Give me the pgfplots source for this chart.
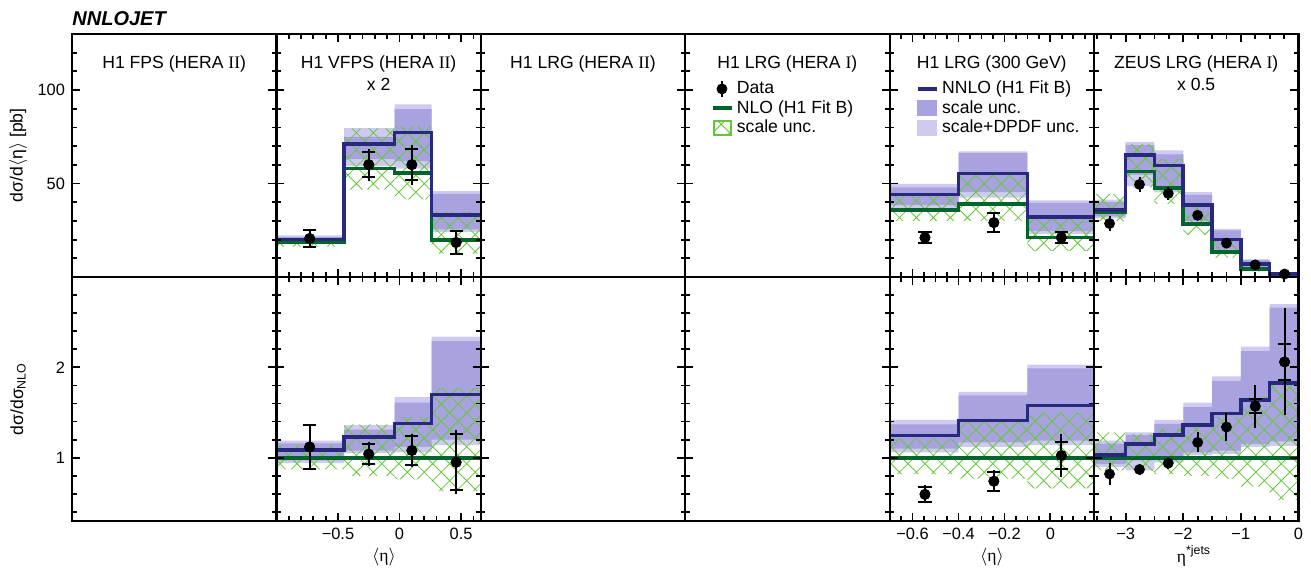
\documentclass[border=0pt]{standalone}
\usepackage{fontspec}
\setmainfont{Liberation Sans}
\newfontfamily\serif{Liberation Serif}
\usepackage{pgfplots}
\pgfplotsset{compat=1.18}
\usepackage{pgfplotstable}
\usetikzlibrary{patterns.meta}
\usepgfplotslibrary{fillbetween}

\definecolor{lightband}{RGB}{206,202,240}
\definecolor{darkband}{RGB}{168,163,222}
\definecolor{nnloblue}{RGB}{40,40,125}
\definecolor{nlogreen}{RGB}{0,100,45}
\definecolor{hatchgreen}{RGB}{100,198,55}

% ---------- theory bands (bin left edges, last row = right edge) ----------
\pgfplotstableread{
x nnlo nlo dlo dhi llo lhi hlo hhi
-1.00 20.0 18.5 19.0 21.3 18.3 22.3 16.3 21.0
-0.45 71.2 58.0 63.0 75.0 59.5 79.6 46.8 79.5
-0.04 77.2 55.7 62.0 89.8 58.0 92.4 41.5 80.5
0.26 33.3 19.8 25.5 44.5 24.0 46.0 12.5 35.0
0.66 33.3 19.8 25.5 44.5 24.0 46.0 12.5 35.0
}\vfpstop
\pgfplotstableread{
x nnlo nlo dlo dhi llo lhi hlo hhi
-1.00 1.088 1 0.97 1.16 0.94 1.19 0.87 1.13
-0.45 1.23 1 1.08 1.31 1.05 1.36 0.80 1.37
-0.04 1.38 1 1.12 1.61 1.06 1.67 0.76 1.45
0.26 1.70 1 1.20 2.29 1.14 2.34 0.63 1.77
0.66 1.70 1 1.20 2.29 1.14 2.34 0.63 1.77
}\vfpsrat
\pgfplotstableread{
x nnlo nlo dlo dhi llo lhi hlo hhi
-0.7 44.1 35.8 38.5 48.0 36.8 49.8 30.0 43.3
-0.4 55.3 39.2 45.4 66.3 42.4 67.2 30.0 54.5
-0.1 32.1 21.1 24.6 39.7 22.9 41.0 14.0 31.0
0.2 32.1 21.1 24.6 39.7 22.9 41.0 14.0 31.0
}\lrgtop
\pgfplotstableread{
x nnlo nlo dlo dhi llo lhi hlo hhi
-0.7 1.246 1 1.10 1.37 1.06 1.42 0.82 1.21
-0.4 1.41 1 1.17 1.69 1.12 1.73 0.77 1.40
-0.1 1.58 1 1.19 1.99 1.14 2.03 0.66 1.50
0.2 1.58 1 1.19 1.99 1.14 2.03 0.66 1.50
}\lrgrat
\pgfplotstableread{
x nnlo nlo dlo dhi llo lhi hlo hhi
-3.6 35.8 34.8 32.4 40.2 31.3 41.4 29.9 44.5
-3.0 65.3 56.5 54.8 70.6 48.6 72.3 48.0 71.2
-2.5 59.6 47.7 48.2 65.6 45.3 67.7 39.1 63.0
-2.0 38.4 28.2 29.9 44.0 28.9 45.4 22.6 39.2
-1.5 20.1 13.5 14.6 25.0 14.0 25.7 10.4 19.6
-1.0 6.9 4.2 4.8 9.2 4.7 9.4 2.9 7.0
-0.5 1.6 0.87 1.0 2.3 1.0 2.35 0.46 1.6
0.0 1.6 0.87 1.0 2.3 1.0 2.35 0.46 1.6
}\zeustop
\pgfplotstableread{
x nnlo nlo dlo dhi llo lhi hlo hhi
-3.6 1.03 1 0.93 1.155 0.90 1.19 0.86 1.28
-3.0 1.155 1 0.97 1.25 0.86 1.28 0.85 1.26
-2.5 1.25 1 1.01 1.375 0.95 1.42 0.82 1.32
-2.0 1.36 1 1.06 1.56 1.025 1.61 0.80 1.39
-1.5 1.49 1 1.08 1.85 1.04 1.90 0.77 1.45
-1.0 1.64 1 1.15 2.18 1.12 2.23 0.68 1.67
-0.5 1.83 1 1.18 2.66 1.13 2.70 0.53 1.85
0.0 1.83 1 1.18 2.66 1.13 2.70 0.53 1.85
}\zeusrat

% ---------- data ----------
\pgfplotstableread{
x y s tp tm
-0.73 20.6 4.4 4.4 4.4
-0.25 60.1 6.8 8.5 8.5
0.10 60.1 8.4 10.5 11.0
0.46 18.5 6.2 6.2 6.2
}\vfpsdtop
\pgfplotstableread{
x y s tp tm
-0.73 1.12 0.24 0.24 0.24
-0.25 1.04 0.11 0.135 0.135
0.10 1.08 0.16 0.18 0.18
0.46 0.95 0.31 0.36 0.35
}\vfpsdrat
\pgfplotstableread{
x y s tp tm
-0.546 21.1 2.9 3.5 3.5
-0.246 29.1 4.9 5.5 5.5
0.048 21.1 2.8 3.5 3.5
}\lrgdtop
\pgfplotstableread{
x y s tp tm
-0.546 0.595 0.08 0.10 0.10
-0.246 0.74 0.105 0.12 0.12
0.048 1.025 0.145 0.24 0.24
}\lrgdrat
\pgfplotstableread{
x y tp tm
-3.28 28.6 4 4
-2.76 49.5 4 4
-2.26 44.7 3.5 3.5
-1.75 33.0 2.5 2.5
-1.25 18.1 1.5 1.5
-0.75 6.5 0.8 0.8
-0.24 1.6 0.5 0.5
}\zeusdtop
\pgfplotstableread{
x y tp tm
-3.28 0.82 0.12 0.12
-2.76 0.87 0.065 0.065
-2.26 0.94 0.06 0.06
-1.75 1.17 0.11 0.11
-1.25 1.34 0.155 0.155
-0.75 1.57 0.23 0.24
-0.24 2.06 0.60 0.59
}\zeusdrat
\pgfplotstableread{
x y s
-0.75 1.57 0.075
-0.24 2.06 0.20
}\zeusdratstat

\tikzset{hatchfill/.style={pattern={Hatch[angle=45,distance=6pt,line width=0.4pt]}, pattern color=hatchgreen}}

\newcommand{\bands}[1]{%
 \addplot[const plot, draw=none, forget plot, name path=LL] table[x=x,y=llo]{#1};
 \addplot[const plot, draw=none, forget plot, name path=LH] table[x=x,y=lhi]{#1};
 \addplot[fill=lightband, draw=none, forget plot] fill between[of=LL and LH];
 \addplot[const plot, draw=none, forget plot, name path=DL] table[x=x,y=dlo]{#1};
 \addplot[const plot, draw=none, forget plot, name path=DH] table[x=x,y=dhi]{#1};
 \addplot[fill=darkband, draw=none, forget plot] fill between[of=DL and DH];
 \addplot[const plot, draw=none, forget plot, name path=HL] table[x=x,y=hlo]{#1};
 \addplot[const plot, draw=none, forget plot, name path=HH] table[x=x,y=hhi]{#1};
 \addplot[hatchfill, draw=none, forget plot] fill between[of=HL and HH];
 \addplot[const plot, nlogreen, line width=1.8pt, forget plot] table[x=x,y=nlo]{#1};
 \addplot[const plot, nnloblue, line width=1.8pt, forget plot] table[x=x,y=nnlo]{#1};
}
\newcommand{\totpts}[1]{%
 \addplot[only marks, black, mark=*, mark size=2.5pt, forget plot,
   error bars/.cd, y dir=both, y explicit, error mark=none,
   error bar style={line width=1pt, black}]
   table[x=x, y=y, y error plus=tp, y error minus=tm]{#1};
}
\newcommand{\statpts}[1]{%
 \addplot[only marks, black, mark=*, mark size=2.5pt, forget plot,
   error bars/.cd, y dir=both, y explicit,
   error bar style={line width=1pt, black},
   error mark options={rotate=90, black, mark size=3.3pt, line width=1pt}]
   table[x=x, y=y, y error=s]{#1};
}
\newcommand{\dummy}{\addplot[draw=none, mark=none, forget plot] coordinates {(0.5,1) (0.6,1)};}

\newcommand{\ttl}{\fontsize{8.8}{10}\selectfont}

\pgfplotsset{
 panel/.style={scale only axis, width=102.2pt, anchor=south west, axis on top,
   axis line style={line width=1.1pt, black},
   tick style={black, line width=0.9pt},
   major tick length=4pt, minor tick length=2.3pt, tick align=inside,
   xtick pos=both, ytick pos=both,
   tick label style={font=\fontsize{8.2}{9}\selectfont},
   clip=true},
 toprow/.style={height=121.5pt, ymin=0, ymax=130, ytick={50,100},
   minor ytick={10,20,30,40,60,70,80,90,110,120}, yticklabels={}},
 botrow/.style={height=122pt, ymin=0.3, ymax=3, ytick={1,2},
   minor ytick={0.4,0.6,0.8,1.2,1.4,1.6,1.8,2.2,2.4,2.6,2.8}, yticklabels={}},
 emptyx/.style={xmin=0, xmax=1, xtick=\empty},
 vfps/.style={xmin=-1.0, xmax=0.66, xtick={-0.5,0,0.5},
   minor xtick={-0.9,-0.8,-0.7,-0.6,-0.4,-0.3,-0.2,-0.1,0.1,0.2,0.3,0.4,0.6}},
 lrg/.style={xmin=-0.7, xmax=0.19, xtick={-0.6,-0.4,-0.2,0},
   minor xtick={-0.65,-0.55,-0.5,-0.45,-0.35,-0.3,-0.25,-0.15,-0.1,-0.05,0.05,0.1,0.15}},
 zeus/.style={xmin=-3.55, xmax=0, xtick={-3,-2,-1,0},
   minor xtick={-3.5,-3.25,-2.75,-2.5,-2.25,-1.75,-1.5,-1.25,-0.75,-0.5,-0.25}},
 leg/.style={legend style={at={(axis description cs:#1,0.814)}, anchor=north west,
   draw=none, fill=none, inner sep=0pt, row sep=0.45pt, column sep=1.2pt,
   nodes={inner sep=0.5pt, text height=6.5pt, text depth=1.8pt, font=\ttl}},
   legend cell align=left},
}

\begin{document}
\begin{tikzpicture}

% ================= TOP ROW =================
\begin{axis}[panel, toprow, emptyx, at={(36pt,148.5pt)}, yticklabels={50,100}]
\dummy
\node[font=\ttl] at (axis description cs:0.5,0.877) {H1 FPS (HERA {\serif II})};
\end{axis}

\begin{axis}[panel, toprow, vfps, xticklabels={}, at={(138.2pt,148.5pt)}]
\bands{\vfpstop}
\totpts{\vfpsdtop}
\statpts{\vfpsdtop}
\node[font=\ttl] at (axis description cs:0.5,0.877) {H1 VFPS (HERA {\serif II})};
\node[font=\ttl] at (axis description cs:0.5,0.794) {x 2};
\end{axis}

\begin{axis}[panel, toprow, emptyx, at={(240.4pt,148.5pt)}]
\dummy
\node[font=\ttl] at (axis description cs:0.5,0.877) {H1 LRG (HERA {\serif II})};
\end{axis}

\begin{axis}[panel, toprow, emptyx, at={(342.6pt,148.5pt)}, leg=0.122]
\dummy
\addlegendimage{legend image code/.code={
  \path (0,0) (9.5pt,0);
  \draw[black, line width=1pt] (4.7pt,-3.8pt)--(4.7pt,3.8pt);
  \fill[black] (4.7pt,0) circle (2.5pt);}}
\addlegendentry{Data}
\addlegendimage{legend image code/.code={
  \draw[nlogreen, line width=2pt] (0,0)--(9.5pt,0);}}
\addlegendentry{NLO (H1 Fit B)}
\addlegendimage{legend image code/.code={
  \draw[hatchgreen, line width=1pt, hatchfill] (0.5pt,-3.4pt) rectangle (9pt,3.6pt);}}
\addlegendentry{scale unc.}
\node[font=\ttl] at (axis description cs:0.5,0.877) {H1 LRG (HERA {\serif I})};
\end{axis}

\begin{axis}[panel, toprow, lrg, xticklabels={}, at={(444.8pt,148.5pt)}, leg=0.126]
\bands{\lrgtop}
\totpts{\lrgdtop}
\statpts{\lrgdtop}
\addlegendimage{legend image code/.code={
  \draw[nnloblue, line width=2pt] (0,0)--(9.5pt,0);}}
\addlegendentry{NNLO (H1 Fit B)}
\addlegendimage{legend image code/.code={
  \fill[darkband] (0,-3.5pt) rectangle (9.5pt,3.8pt);}}
\addlegendentry{scale unc.}
\addlegendimage{legend image code/.code={
  \fill[lightband] (0,-3.5pt) rectangle (9.5pt,3.8pt);}}
\addlegendentry{scale+DPDF unc.}
\node[font=\ttl] at (axis description cs:0.5,0.877) {H1 LRG (300 GeV)};
\end{axis}

\begin{axis}[panel, toprow, zeus, xticklabels={}, at={(547.0pt,148.5pt)}]
\bands{\zeustop}
\totpts{\zeusdtop}
\node[font=\ttl] at (axis description cs:0.5,0.877) {ZEUS LRG (HERA {\serif I})};
\node[font=\ttl] at (axis description cs:0.5,0.794) {x 0.5};
\end{axis}

% ================= BOTTOM ROW =================
\begin{axis}[panel, botrow, emptyx, at={(36pt,26.5pt)}, yticklabels={1,2}]
\dummy
\end{axis}

\begin{axis}[panel, botrow, vfps, xticklabels={−0.5,0,0.5}, at={(138.2pt,26.5pt)}]
\bands{\vfpsrat}
\totpts{\vfpsdrat}
\statpts{\vfpsdrat}
\end{axis}

\begin{axis}[panel, botrow, emptyx, at={(240.4pt,26.5pt)}]
\dummy
\end{axis}

\begin{axis}[panel, botrow, emptyx, at={(342.6pt,26.5pt)}]
\dummy
\end{axis}

\begin{axis}[panel, botrow, lrg, xticklabels={−0.6,−0.4,−0.2,0}, at={(444.8pt,26.5pt)}]
\bands{\lrgrat}
\totpts{\lrgdrat}
\statpts{\lrgdrat}
\end{axis}

\begin{axis}[panel, botrow, zeus, xticklabels={−3,−2,−1,0}, at={(547.0pt,26.5pt)}]
\bands{\zeusrat}
\totpts{\zeusdrat}
\statpts{\zeusdratstat}
\end{axis}

% ================= TEXT =================
\node[anchor=base west, inner sep=0pt, font=\fontsize{10}{12}\selectfont\bfseries\itshape] at (36pt,274pt) {NNLOJET};
\node[rotate=90, font=\ttl] at (9pt,209.3pt) {dσ/d$\langle$η$\rangle$ [pb]};
\node[rotate=90, font=\ttl] at (9pt,87.5pt) {dσ/dσ\textsubscript{NLO}};
\node[font=\ttl] at (192pt,8.5pt) {$\langle${\serif η}$\rangle$};
\node[font=\ttl] at (496pt,8.5pt) {$\langle${\serif η}$\rangle$};
\node[font=\ttl] at (597pt,9pt) {{\serif η}\textsuperscript{*jets}};
\pgfresetboundingbox
\useasboundingbox (0,0) rectangle (655.5pt,287pt);
\end{tikzpicture}
\end{document}
